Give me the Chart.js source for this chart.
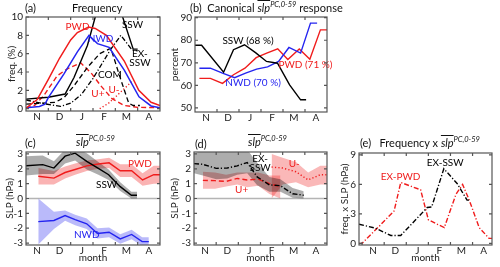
<!DOCTYPE html>
<html>
<head>
<meta charset="utf-8">
<script src="https://cdn.jsdelivr.net/npm/chart.js@4.4.0/dist/chart.umd.min.js"></script>
<style>
  body { margin: 0; background: #fff; }
  #wrap { position: relative; width: 500px; height: 267px; overflow: hidden; font-family: Lato, sans-serif; color: #111; }
  canvas { position: absolute; }
  .t { position: absolute; font-size: 11px; line-height: 12px; white-space: nowrap; }
  .s { font-style: italic; text-decoration: overline; }
  .t sup { font-size: 7.5px; font-style: italic; vertical-align: 5px; line-height: 0; }
</style>
</head>
<body>
<div id="wrap">
  <canvas id="pa" width="166" height="125" style="left:0;top:0"></canvas>
  <canvas id="pb" width="166" height="125" style="left:166px;top:0"></canvas>
  <canvas id="pc" width="166" height="139" style="left:0;top:128px"></canvas>
  <canvas id="pd" width="166" height="139" style="left:166px;top:128px"></canvas>
  <canvas id="pe" width="168" height="139" style="left:332px;top:128px"></canvas>

  <div class="t" style="left:25px;top:2px">(a)</div>
  <div class="t" style="left:72px;top:2px">Frequency</div>
  <div class="t" style="left:190px;top:2px">(b)&nbsp; Canonical <span class="s">slp</span><sup>PC,0-59</sup> response</div>
  <div class="t" style="left:25px;top:137px">(c)</div>
  <div class="t" style="left:76px;top:136px"><span class="s">slp</span><sup>PC,0-59</sup></div>
  <div class="t" style="left:195px;top:138px">(d)</div>
  <div class="t" style="left:248px;top:136px"><span class="s">slp</span><sup>PC,0-59</sup></div>
  <div class="t" style="left:360px;top:137px">(e)&nbsp;&nbsp; Frequency x <span class="s">slp</span><sup>PC,0-59</sup></div>
</div>
<script>
// x axis: months from 1 Nov (0) to 1 May (6)
const monthLabels = ['N', 'D', 'J', 'F', 'M', 'A'];
const monthCentres = [0.5, 1.5, 2.5, 3.5, 4.5, 5.5];
const monthEdges = [1, 2, 3, 4, 5];

// (a) frequency (%), [month, value]
const freqPWD = [[0,0.05],[0.5,1.0],[1.0,3.2],[1.5,5.5],[2.0,7.5],[2.3,8.3],[2.8,8.9],[3.1,8.75],[3.6,8.0],[4.4,5.2],[5.05,2.0],[5.6,0.7],[6.0,0.35]];
const freqNWD = [[0,0.1],[0.6,0.25],[0.85,0.5],[1.0,1.2],[1.7,3.8],[2.3,6.2],[2.82,8.0],[3.2,7.1],[3.72,6.7],[4.4,4.2],[5.06,1.3],[5.6,0.3],[6,0.1]];
const freqSSW = [[0,1.05],[1.0,1.25],[1.75,1.6],[2.15,3.4],[2.75,6.9],[3.1,10.0],[3.3,11.5],[3.8,13],[4.3,10.2],[4.8,6.5],[5.0,6.5]];
const freqEXSSW = [[0,0.95],[0.8,0.55],[1.55,0.25],[2.0,0.6],[2.5,1.6],[3.0,3.3],[3.4,4.9],[3.8,6.5],[4.25,8.0],[4.75,6.4],[5.0,6.3]];
const freqCOM = [[0,0.5],[0.7,0.6],[1.3,0.7],[1.7,1.2],[2.15,2.5],[2.75,4.5],[3.3,6.0],[3.8,6.6],[4.2,3.5],[4.6,0.6],[4.8,0.35],[5.1,0.35]];
const freqUplus = [[0,0.05],[0.4,0.4],[0.8,1.45],[1.4,3.6],[1.85,4.35],[2.45,5.0],[2.95,3.8],[3.35,2.5],[3.85,1.1],[4.4,0.35],[5.0,0.15],[6,0.1]];
const freqUminus = [[3.3,0.0],[3.7,0.6],[4.1,1.5],[4.45,2.3],[4.8,3.1]];

// (b) canonical response (percent)
const pctSSW = [[0,77.8],[0.3,77.8],[1.3,65.8],[1.75,75.8],[2.25,78],[2.75,74.5],[3.25,70.6],[3.75,69.8],[4.3,60.2],[4.8,53.6],[5.05,53.6]];
const pctNWD = [[0.2,67.6],[0.7,67.6],[1.25,65.4],[1.8,63.4],[2.3,65.4],[2.8,67.2],[3.3,68.2],[3.8,70.6],[4.27,76.8],[4.8,74.3],[5.25,87.6],[5.55,87.6]];
const pctPWD = [[0.2,63.1],[0.7,63.1],[1.25,60.9],[1.75,64.7],[2.27,67.6],[2.78,72.3],[3.26,74.3],[3.76,76.2],[4.22,71.5],[4.74,76.1],[5.22,71.6],[5.7,84.6],[6.0,84.6]];

// (c) SLP (hPa): centre line and shaded range
const sswMonthC = [0,0.75,1.25,1.75,2.2,2.72,3.24,3.7,4.22,4.72,4.97];
const sswSlpC = [2.2,2.28,2.05,2.85,3.05,2.5,2.03,1.6,0.8,0.22,0.22];
const sswHiC = [2.85,2.9,2.5,3.3,3.4,3.05,2.45,1.95,1.1,0.45,0.45];
const sswLoC = [1.55,1.65,1.65,2.35,2.55,1.95,1.6,1.25,0.5,0.0,0.0];
const pwdMonthC = [0.55,1.25,1.75,2.2,2.72,3.24,3.72,4.22,4.73,5.22,5.72,6.0];
const pwdSlpC = [1.5,1.37,1.75,1.95,2.2,2.32,2.4,1.87,1.87,1.25,1.6,1.6];
const pwdHiC = [2.05,1.85,2.15,2.35,2.55,2.65,2.75,2.3,2.3,1.7,2.2,2.2];
const pwdLoC = [0.95,0.95,1.35,1.6,1.85,2.0,2.05,1.45,1.45,0.85,1.0,1.0];
const nwdMonthC = [0.55,1.25,1.75,2.2,2.72,3.2,3.72,4.22,4.73,5.2,5.5];
const nwdSlpC = [-1.56,-1.48,-1.15,-1.42,-1.7,-2.35,-2.27,-2.72,-2.42,-2.9,-2.9];
const nwdHiC = [0.0,-0.9,-0.8,-1.1,-1.35,-2.0,-1.95,-2.4,-2.1,-2.6,-2.6];
const nwdLoC = [-3.1,-2.05,-1.5,-1.8,-2.05,-2.7,-2.6,-3.05,-2.75,-3.2,-3.2];

// (d) SLP (hPa)
const exsswMonthD = [0,0.4,1.0,1.5,1.95,2.4,2.85,3.4,3.9,4.45,4.95];
const exsswSlpD = [2.35,2.3,2.03,2.05,2.2,2.42,1.45,0.92,0.86,0.32,0.22];
const exsswHiD = [3.05,3.2,3.3,3.3,3.3,3.3,2.4,1.45,1.3,0.7,0.48];
const exsswLoD = [1.7,1.55,1.3,1.35,1.6,1.7,0.9,0.45,0.45,0.05,0.0];
const uplusMonthD = [0.4,0.95,1.45,1.95,2.4,2.9,3.4,3.9];
const uplusSlpD = [1.22,1.2,1.15,1.35,1.25,1.3,1.0,0.8];
const uplusHiD = [1.8,1.75,1.6,1.75,1.75,1.75,1.55,1.55];
const uplusLoD = [0.65,0.65,0.8,0.95,0.75,0.85,0.3,0.0];
const uminusMonthD = [3.5,4.0,4.6,5.15,5.7,6.0];
const uminusSlpD = [2.12,2.05,1.8,1.25,1.6,1.6];
const uminusHiD = [3.0,2.75,2.45,1.75,2.2,2.2];
const uminusLoD = [0.0,0.95,1.1,0.75,0.95,0.95];

// (e) frequency x SLP
const fxsEXSSW = [[-0.14,1.95],[0.6,1.55],[1.3,0.8],[1.75,0.8],[2.95,3.65],[3.15,3.7],[3.7,7.6],[4.3,6.1],[4.75,4.4],[4.85,4.4]];
const fxsEXPWD = [[-0.14,0],[0.0,0],[0.8,1.8],[1.45,3.3],[1.75,6.2],[2.65,5.45],[3.0,2.4],[3.72,1.6],[4.25,5.0],[4.55,6.0],[4.85,4.4],[5.3,1.6],[5.75,0.5],[5.88,0.5]];

const RED = '#f01c1c', BLUE = '#2424f0', BLACK = '#000';
const DASH = [5, 3], DOT = [1.2, 2.2], DASHDOT = [5, 2, 1.2, 2];

Chart.defaults.font.family = 'Lato';
Chart.defaults.font.size = 10;
Chart.defaults.color = '#222';

function pts(pairs) { return pairs.map(p => ({ x: p[0], y: p[1] })); }
function zip(xs, ys) { return xs.map((x, i) => ({ x: x, y: ys[i] })); }
function line(data, color, dash, width) {
  return { data: data, borderColor: color, borderDash: dash || [], borderWidth: width || 1.4,
           pointRadius: 0, fill: false, order: 0 };
}
function band(xs, hi, lo, color) {
  return [
    { data: zip(xs, hi), borderWidth: 0, borderColor: 'rgba(0,0,0,0)', pointRadius: 0, backgroundColor: color, fill: '+1', order: 5 },
    { data: zip(xs, lo), borderWidth: 0, borderColor: 'rgba(0,0,0,0)', pointRadius: 0, fill: false, order: 5 }
  ];
}

// in-plot text labels, zero line, box with inward ticks
const extras = {};
const framePlugin = {
  id: 'frame',
  beforeDatasetsDraw(chart) {
    const ex = extras[chart.canvas.id];
    if (!ex.zero) return;
    const { ctx, chartArea: a, scales: { y } } = chart;
    const py = y.getPixelForValue(0);
    ctx.save();
    ctx.strokeStyle = '#b4b4b4';
    ctx.lineWidth = 1.5;
    ctx.beginPath(); ctx.moveTo(a.left, py); ctx.lineTo(a.right, py); ctx.stroke();
    ctx.restore();
  },
  afterDatasetsDraw(chart) {
    const ex = extras[chart.canvas.id];
    const { ctx, chartArea: a, scales: { x, y } } = chart;
    ctx.save();
    ctx.font = '10px Lato';
    ctx.textAlign = 'center';
    ctx.textBaseline = 'middle';
    ex.labels.forEach(l => {
      ctx.fillStyle = l.color;
      const rows = l.text.split('\n');
      rows.forEach((s, i) => ctx.fillText(s, x.getPixelForValue(l.x), y.getPixelForValue(l.y) + (i - (rows.length - 1) / 2) * 9));
    });
    ctx.strokeStyle = '#555';
    ctx.lineWidth = 1.2;
    ctx.strokeRect(a.left, a.top, a.right - a.left, a.bottom - a.top);
    ctx.beginPath();
    ex.edges.forEach(v => {
      const px = x.getPixelForValue(v);
      ctx.moveTo(px, a.bottom); ctx.lineTo(px, a.bottom - 3);
      ctx.moveTo(px, a.top); ctx.lineTo(px, a.top + 3);
    });
    y.ticks.forEach(t => {
      const py = y.getPixelForValue(t.value);
      ctx.moveTo(a.left, py); ctx.lineTo(a.left + 3, py);
      ctx.moveTo(a.right, py); ctx.lineTo(a.right - 3, py);
    });
    ctx.stroke();
    ctx.restore();
  }
};

function panel(id, o) {
  extras[id] = { labels: o.labels, edges: o.edges || monthEdges, zero: o.zero };
  new Chart(document.getElementById(id), {
    type: 'line',
    data: { datasets: o.datasets },
    options: {
      responsive: false,
      animation: false,
      events: [],
      layout: { padding: { left: 0, right: o.padR, top: o.padT, bottom: 0 } },
      plugins: { legend: { display: false }, tooltip: { enabled: false } },
      scales: {
        x: {
          type: 'linear', min: o.xMin === undefined ? 0 : o.xMin, max: o.xMax === undefined ? 6 : o.xMax,
          grid: { display: false, drawTicks: false }, border: { display: false },
          afterBuildTicks: s => { s.ticks = monthCentres.map(v => ({ value: v })); },
          afterFit: s => { s.height = o.xH; },
          ticks: { autoSkip: false, maxRotation: 0, padding: 0, callback: (v, i) => monthLabels[i] },
          title: { display: !!o.xTitle, text: o.xTitle, padding: { top: 0, bottom: 3 } }
        },
        y: {
          min: o.yMin, max: o.yMax,
          grid: { display: false, drawTicks: false }, border: { display: false },
          afterBuildTicks: s => { s.ticks = o.yTicks.map(v => ({ value: v })); },
          afterFit: s => { s.width = o.yW; },
          ticks: { padding: 3 },
          title: { display: true, text: o.yTitle, padding: { top: o.yTitlePad, bottom: 0 } }
        }
      }
    },
    plugins: [framePlugin]
  });
}

panel('pa', {
  padR: 6, padT: 17, xH: 14, yW: 26, yMin: -0.25, yMax: 10, yTicks: [0, 2, 4, 6, 8, 10],
  yTitle: 'freq. (%)', yTitlePad: 6,
  datasets: [
    line(pts(freqPWD), RED, null, 1.5),
    line(pts(freqNWD), BLUE, null, 1.5),
    line(pts(freqSSW), BLACK, null, 1.4),
    line(pts(freqEXSSW), BLACK, DASHDOT, 1.3),
    line(pts(freqCOM), BLACK, DASH, 1.3),
    line(pts(freqUplus), RED, DASH, 1.4),
    line(pts(freqUminus), RED, DOT, 1.4)
  ],
  labels: [
    { text: 'PWD', x: 2.31, y: 8.96, color: RED },
    { text: 'NWD', x: 3.34, y: 7.66, color: BLUE },
    { text: 'SSW', x: 4.77, y: 9.18, color: BLACK },
    { text: 'EX-\nSSW', x: 5.1, y: 5.45, color: BLACK },
    { text: 'COM', x: 3.76, y: 3.73, color: BLACK },
    { text: 'U+', x: 3.22, y: 1.66, color: RED },
    { text: 'U-', x: 3.94, y: 2.09, color: RED }
  ]
});

panel('pb', {
  padR: 5, padT: 17, xH: 13, yW: 29, yMin: 48.2, yMax: 90.3, yTicks: [50, 60, 70, 80, 90],
  yTitle: 'percent', yTitlePad: 3,
  datasets: [
    line(pts(pctSSW), BLACK, null, 1.4),
    line(pts(pctNWD), BLUE, null, 1.4),
    line(pts(pctPWD), RED, null, 1.4)
  ],
  labels: [
    { text: 'SSW (68 %)', x: 2.41, y: 79.9, color: BLACK },
    { text: 'NWD (70 %)', x: 2.64, y: 61.3, color: BLUE },
    { text: 'PWD (71 %)', x: 5.02, y: 69.3, color: RED }
  ]
});

panel('pc', {
  padR: 6, padT: 24, xH: 22, yW: 26, yMin: -3.13, yMax: 3.13, yTicks: [-3, -2, -1, 0, 1, 2, 3],
  yTitle: 'SLP (hPa)', yTitlePad: 4, xTitle: 'month', zero: true,
  datasets: [
    line(zip(sswMonthC, sswSlpC), BLACK, null, 1.4),
    line(zip(pwdMonthC, pwdSlpC), RED, null, 1.4),
    line(zip(nwdMonthC, nwdSlpC), BLUE, null, 1.4),
    ...band(sswMonthC, sswHiC, sswLoC, 'rgba(0,0,0,0.32)'),
    ...band(pwdMonthC, pwdHiC, pwdLoC, 'rgba(240,20,20,0.32)'),
    ...band(nwdMonthC, nwdHiC, nwdLoC, 'rgba(40,40,240,0.32)')
  ],
  labels: [
    { text: 'PWD', x: 5.1, y: 2.37, color: RED },
    { text: 'SSW', x: 3.61, y: 0.91, color: BLACK },
    { text: 'NWD', x: 2.72, y: -2.47, color: BLUE }
  ]
});

panel('pd', {
  padR: 5, padT: 24, xH: 22, yW: 28, yMin: -3.13, yMax: 3.13, yTicks: [-3, -2, -1, 0, 1, 2, 3],
  yTitle: 'SLP (hPa)', yTitlePad: 3, xTitle: 'month', zero: true,
  datasets: [
    line(zip(exsswMonthD, exsswSlpD), BLACK, DASHDOT, 1.4),
    line(zip(uplusMonthD, uplusSlpD), RED, DASH, 1.4),
    line(zip(uminusMonthD, uminusSlpD), RED, DOT, 1.4),
    ...band(exsswMonthD, exsswHiD, exsswLoD, 'rgba(0,0,0,0.32)'),
    ...band(uplusMonthD, uplusHiD, uplusLoD, 'rgba(240,20,20,0.3)'),
    ...band(uminusMonthD, uminusHiD, uminusLoD, 'rgba(240,20,20,0.3)')
  ],
  labels: [
    { text: 'EX-\nSSW', x: 2.98, y: 2.37, color: BLACK },
    { text: 'U+', x: 2.15, y: 0.61, color: RED },
    { text: 'U-', x: 4.52, y: 2.37, color: RED }
  ]
});

panel('pe', {
  padR: 8, padT: 25, xH: 22, yW: 27, xMin: -0.14, xMax: 5.88, yMin: -0.17, yMax: 9.2, yTicks: [0, 3, 6, 9],
  edges: [0, 1, 2, 3, 4, 5],
  yTitle: 'freq. x SLP (hPa)', yTitlePad: 7, xTitle: 'month',
  datasets: [
    line(pts(fxsEXSSW), BLACK, DASHDOT, 1.4),
    line(pts(fxsEXPWD), RED, DASHDOT, 1.4)
  ],
  labels: [
    { text: 'EX-SSW', x: 3.76, y: 8.18, color: BLACK },
    { text: 'EX-PWD', x: 1.74, y: 6.76, color: RED }
  ]
});
</script>
</body>
</html>
